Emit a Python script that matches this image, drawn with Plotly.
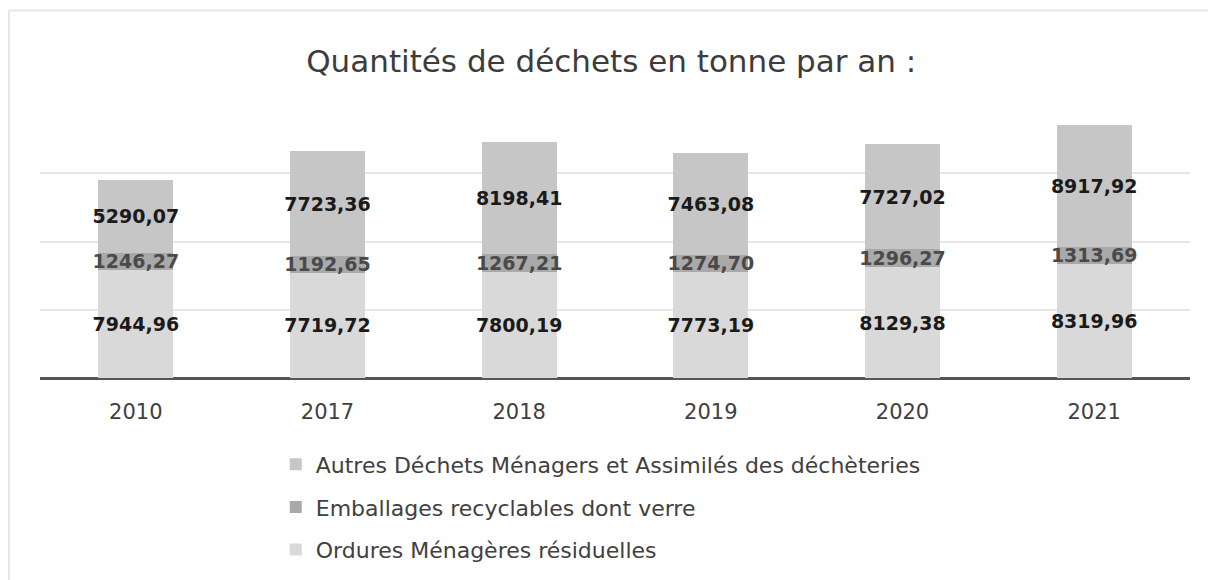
import plotly.graph_objects as go

years = ["2010", "2017", "2018", "2019", "2020", "2021"]
ordures = [7944.96, 7719.72, 7800.19, 7773.19, 8129.38, 8319.96]
emballages = [1246.27, 1192.65, 1267.21, 1274.70, 1296.27, 1313.69]
autres = [5290.07, 7723.36, 8198.41, 7463.08, 7727.02, 8917.92]

names = [
    "Ordures Ménagères résiduelles",
    "Emballages recyclables dont verre",
    "Autres Déchets Ménagers et Assimilés des déchèteries",
]
colors = ["#d9d9d9", "#a9a9a9", "#c6c6c6"]
text_colors = ["#1a1a1a", "#4a4a4a", "#1a1a1a"]
ranks = [3, 2, 1]

def fmt(v):
    return f"{v:.2f}".replace(".", ",")

FONT = "DejaVu Sans"
fig = go.Figure()
for vals, name, col, tcol, rk in zip([ordures, emballages, autres], names, colors, text_colors, ranks):
    fig.add_trace(go.Bar(
        x=years, y=vals, name=name, marker=dict(color=col, line=dict(width=0)),
        text=[fmt(v) for v in vals], textposition="inside", insidetextanchor="middle",
        textangle=0, constraintext="none",
        textfont=dict(family=FONT, size=19, color=tcol, weight="bold"),
        legendgroup=name, legendrank=rk, width=0.39,
    ))

fig.update_layout(
    barmode="stack",
    width=1208, height=580,
    margin=dict(l=40, r=18, t=105, b=202, autoexpand=False),
    paper_bgcolor="white", plot_bgcolor="white",
    title=dict(text="Quantités de déchets en tonne par an :", x=0.506, xanchor="center",
               y=0.895, yanchor="middle",
               font=dict(family=FONT, size=31, color="#3c3c3c")),
    xaxis=dict(showgrid=False, tickfont=dict(family=FONT, size=21, color="#404040"),
               ticks="", showline=False, ticklabelstandoff=19),
    yaxis=dict(range=[0, 20000], dtick=5000, showticklabels=False, gridcolor="#e6e6e6",
               gridwidth=1.5, zeroline=True, zerolinecolor="#555555", zerolinewidth=3),
    showlegend=True,
    legend=dict(orientation="v", x=0.205, xanchor="left", y=-0.24, yanchor="top",
                traceorder="grouped", tracegroupgap=11, bgcolor="rgba(0,0,0,0)",
                font=dict(family=FONT, size=22, color="#404040"), itemclick=False),
    shapes=[
        dict(type="line", xref="paper", yref="paper", x0=-0.027, x1=1.05, y0=1.346, y1=1.346,
             line=dict(color="#e6e6e6", width=2)),
        dict(type="line", xref="paper", yref="paper", x0=-0.027, x1=-0.027, y0=1.346, y1=-0.8,
             line=dict(color="#e6e6e6", width=2)),
    ],
)

fig.write_html("out.html", post_script="document.body.style.margin='0';",
               config={"displayModeBar": False})
